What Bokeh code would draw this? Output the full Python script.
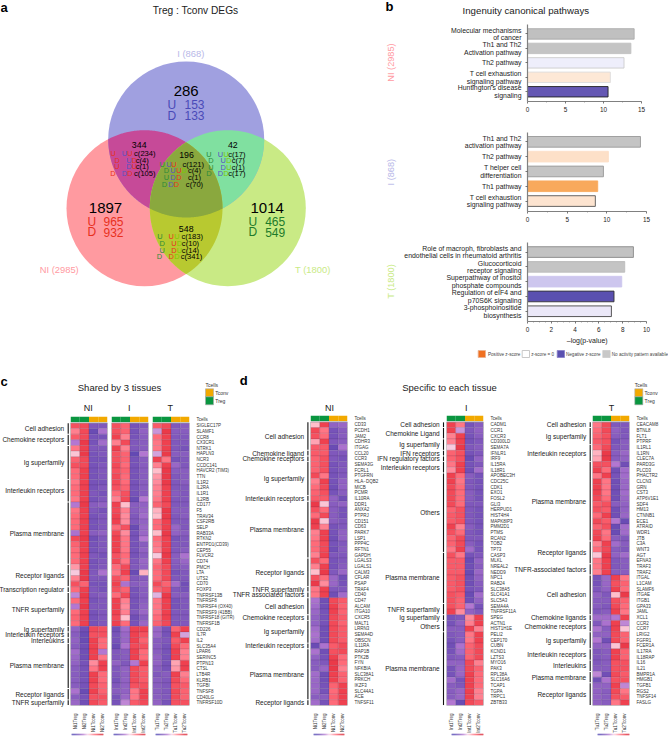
from math import pi
import numpy as np
from bokeh.embed import file_html
from bokeh.resources import INLINE
from bokeh.core.properties import value
from bokeh.models import (Range1d, LinearAxis, FixedTicker, LinearColorMapper)
from bokeh.plotting import figure

FONT = "Liberation Sans"

# ---------- panel a : venn ----------
venn_sets = ["NI (2985)", "I (868)", "T (1800)"]
venn_totals = ["1897", "286", "1014"]
venn_ud = [("965", "932"), ("153", "133"), ("465", "549")]
venn_overlap_titles = [("344", 138.7, 144.3), ("196", 186, 154.7), ("42", 232.3, 144.3), ("548", 185.7, 228)]
venn_small = [
    # zoom-coordinates of the small U/D columns: x, y, text, colour key
    (338,459,"U","r"),(372,459,"U","p"),(388,459,"U","r"),(433,459,"c(234)","k"),
    (350,479,"D","r"),(385,479,"U","p"),(402,479,"D","r"),(425,479,"c(4)","k"),
    (349,498,"U","r"),(385,498,"D","p"),(402,498,"U","r"),(425,498,"c(1)","k"),
    (337,520,"D","r"),(372,520,"D","p"),(388,520,"D","r"),(433,520,"c(105)","k"),
    (485,491,"U","g"),(505,491,"U","p"),(520,491,"U","r"),(578,491,"c(121)","k"),
    (498,511,"D","g"),(517,511,"U","p"),(535,511,"U","r"),(552,511,"D","l"),(582,511,"c(4)","k"),
    (498,530,"U","g"),(517,530,"D","p"),(535,530,"D","r"),(582,530,"c(1)","k"),
    (492,551,"D","g"),(511,551,"D","p"),(528,551,"D","r"),(582,551,"c(70)","k"),
    (625,461,"U","g"),(660,461,"U","p"),(677,461,"U","l"),(709,461,"c(17)","k"),
    (631,481,"D","g"),(668,481,"U","p"),(685,481,"D","l"),(713,481,"c(7)","k"),
    (631,500,"U","g"),(668,500,"D","p"),(685,500,"U","l"),(713,500,"c(1)","k"),
    (625,520,"D","g"),(660,520,"D","p"),(677,520,"D","l"),(709,520,"c(17)","k"),
    (478,709,"U","g"),(512,709,"U","r"),(529,709,"U","l"),(575,709,"c(183)","k"),
    (485,729,"D","g"),(520,729,"U","r"),(537,729,"D","l"),(570,729,"c(10)","k"),
    (485,749,"U","g"),(520,749,"D","r"),(537,749,"U","l"),(570,749,"c(14)","k"),
    (477,769,"D","g"),(512,769,"D","r"),(529,769,"D","l"),(573,769,"c(341)","k"),
]
small_cols = {"r":"#e8301e","p":"#5a50c0","g":"#2e8b3a","l":"#7ec800","k":"#000000"}

# ---------- panel b : pathways ----------
b_ni_labels = ["Molecular mechanisms\nof cancer","Th1 and Th2\nActivation pathway","Th2 pathway","T cell exhaustion\nsignaling pathway","Huntington's disease\nsignaling"]
b_ni_values = [14.03,13.6,12.7,10.9,10.6]
b_ni_fill = ["#c0c0c0","#c4c4c4","#eeeefb","#fde8d6","#6558b4"]
b_ni_line = ["#aaaaaa","#c0c0c0","#cccccc","#dddddd","#222222"]
b_i_labels = ["Th1 and Th2\nactivation pathway","Th2 pathway","T helper cell\ndifferentiation","Th1 pathway","T cell exhaustion\nsignaling pathway"]
b_i_values = [14.24,10.2,9.57,8.85,8.55]
b_i_fill = ["#c4c4c4","#fde0c8","#c4c4c4","#f8a95c","#fde4d0"]
b_i_line = ["#999999","#fde0c8","#999999","#f8a95c","#555555"]
b_t_labels = ["Role of macroph, fibroblasts and\nendothelial cells in rheumatoid arthritis","Glucocorticoid\nreceptor signaling","Superpathway of inositol\nphosphate compounds","Regulation of eIF4 and\np70S6K signaling","3-phosphoinositide\nbiosynthesis"]
b_t_values = [8.9,8.17,7.92,7.27,7.05]
b_t_fill = ["#c2c2c2","#c4c4c4","#cdc6ee","#5a50b0","#ebe8f8"]
b_t_line = ["#888888","#bbbbbb","#cdc6ee","#333333","#444444"]

# ---------- panels c / d : heatmaps, value x 10 ----------
c_genes = ["SIGLEC17P","SLAMF1","CCR8","CX3CR1","NTRK1","HAPLN3","NCR3","CCDC141","HAVCR2 (TIM3)","TTN","IL1R2","IL2RA","IL1R1","IL2RB","CD177","F5","TRAV34","CSF2RB","SELP","RAB33A","RTKN2","ENTPD1(CD39)","CEP55","FLVCR2","CD74","PMCH","LTA","UTS2","CD70","FOXP3","TNFRSF13B","TNFRSF8","TNFRSF4 (OX40)","TNFRSF9 (41BB)","TNFRSF18 (GITR)","TNFRSF1B","CD226","IL7R","IL2","SLC35A4","LPAR6","SERINC5","PTPN13","CTSL","LTB4R","KLRB1","TGFBI","TNFSF8","CD40LG","TNFRSF10D"]
c_groups = [("Cell adhesion",2),("Chemokine receptors",2),("Ig superfamily",6),("Interleukin receptors",4),("Plasma membrane",11),("Receptor ligands",4),("Transcription regulator",1),("TNFR superfamily",6),("Ig superfamily",1),("Interleukin receptors",1),("Interleukins",1),("Plasma membrane",8),("Receptor ligands",2),("TNFR superfamily",1)]
c_ni = [[13,14,-12,-12],[8,14,-15,-7],[12,14,-13,-13],[-6,16,-13,-8],[9,15,-12,-12],[2,16,-13,-12],[11,14,-13,-13],[13,14,-13,-12],[10,15,-13,-12],[10,15,-13,-12],[9,15,-13,-13],[10,15,-13,-12],[10,15,-12,-13],[9,15,-13,-12],[-6,16,-11,-10],[9,15,-12,-13],[10,15,-13,-12],[10,15,-13,-12],[10,15,-13,-12],[-7,15,-11,-10],[14,16,-14,-12],[11,15,-13,-12],[10,15,-13,-12],[10,15,-12,-13],[10,15,-13,-12],[6,15,-13,-12],[1,16,-12,-7],[8,16,-12,-12],[13,11,-13,-13],[10,15,-12,-13],[-5,16,-12,-11],[10,15,-13,-12],[-6,16,-12,-12],[10,15,-13,-12],[11,15,-13,-12],[10,15,-13,-12],[-10,-14,14,13],[-11,-15,13,13],[-10,-15,15,10],[-11,-14,15,10],[-8,-14,15,-6],[-9,-14,15,9],[-10,-13,7,15],[-11,-13,9,15],[-11,-13,15,10],[-11,-13,15,10],[-11,-13,14,11],[-7,-15,15,11],[-11,-13,13,13],[-9,-14,14,12]]
c_i = [[13,11,-13,-12],[13,11,-13,-10],[15,8,-13,-11],[8,14,-12,-11],[15,8,-12,-11],[13,11,-16,-6],[13,11,-13,-11],[14,10,-13,-11],[13,11,-13,-11],[14,10,-13,-11],[14,10,-13,-11],[13,11,-13,-11],[10,13,-13,-11],[8,14,-15,-6],[15,3,-11,-10],[14,8,-11,-9],[15,7,-12,-8],[15,7,-12,-10],[10,13,-15,-9],[14,7,-13,-9],[15,9,-13,-6],[15,9,-13,-11],[15,9,-13,-10],[13,10,-13,-11],[14,9,-12,-9],[10,14,-12,-10],[9,15,-15,4],[13,11,-12,-11],[15,-7,-11,-10],[13,11,-13,-11],[10,14,-13,-11],[15,8,-13,-11],[15,7,-13,-10],[15,8,-12,-9],[14,3,-14,-11],[15,10,-13,-9],[-14,-8,15,15],[-13,-9,15,13],[-13,-9,15,11],[-15,-7,14,13],[-12,-11,15,10],[-12,-11,15,10],[-10,-12,-6,15],[-12,-10,14,12],[-12,-10,14,12],[-13,-10,14,12],[-12,-10,13,13],[-11,-10,9,15],[-13,-9,9,15],[-13,-5,12,14]]
c_t = [[12,14,-12,-11],[-4,16,-11,-11],[10,15,-12,-12],[9,15,-12,-12],[9,15,-12,-13],[-3,16,-11,-11],[15,9,-13,-12],[8,15,-9,-12],[3,16,-11,-11],[6,16,-12,-11],[7,16,-12,-11],[8,15,-12,-12],[8,15,-11,-12],[9,15,-12,-12],[11,14,-12,-12],[4,16,-11,-11],[3,16,-12,-11],[10,15,-12,-12],[10,15,-9,-12],[3,16,-10,-11],[10,15,-13,-12],[9,15,-12,-12],[8,15,-12,-11],[1,16,-11,-7],[9,15,-11,-9],[11,14,-12,-11],[10,14,-13,-12],[10,14,-12,-12],[14,11,-8,-14],[11,13,-12,-13],[-2,16,-11,-11],[9,15,-13,-12],[9,15,-13,-12],[9,15,-12,-12],[10,15,-12,-12],[11,14,-12,-12],[-9,-13,11,15],[-9,-13,15,-3],[-11,-12,12,15],[-11,-13,14,10],[-11,-13,15,8],[-10,-13,15,8],[-10,-13,5,15],[-11,-13,6,15],[-12,-11,15,8],[-11,-12,14,10],[-11,-12,13,12],[-11,-12,14,11],[-11,-12,14,11],[-10,-13,13,13]]

dn_genes = ["CD33","PCDH1","JAM2","CDHR3","ITGAG","CCL20","CCR3","SEMA3G","FCRL1","PTGFRN","HLA\u2212DQB2","MICB","PCMR","IL10RA","DDR1","ANXA2","PTPRJ","CD151","CD63","PARK7","LSP1","PPP4C","RFTN1","GAPDH","LGALS3","LGALS1","CALM3","CFLAR","PSAP","TRAF4","CD40","CD47","ALCAM","ITGA10","CXCR5","MALT1","LRRN3","SEMA4D","OBSCN","IL11RA","RAP1B","PTK2B","FYN","NFKBIA","SLC38A1","PRKCH","IKZF3","SLC44A1","ACE","TNFSF11"]
dn_groups = [("Cell adhesion",5),("Chemokine ligand",1),("Chemokine receptors",1),("Ig superfamily",6),("Interleukin receptors",1),("Plasma membrane",10),("Receptor ligands",5),("TNFR superfamily",1),("TNFR associated factors",1),("Cell adhesion",3),("Chemokine receptors",1),("Ig superfamily",4),("Interleukin receptors",1),("Plasma membrane",9),("Receptor ligands",1)]
d_ni = [[3,15,-10,-9],[14,9,-13,-11],[13,10,-13,-11],[5,15,-12,-11],[12,12,-15,-7],[12,12,-12,-12],[11,13,-12,-13],[11,13,-13,-12],[11,13,-13,-12],[14,9,-13,-12],[8,15,-13,-10],[10,14,-14,-10],[11,13,-13,-11],[12,12,-10,-14],[16,2,-11,-10],[13,10,-11,-13],[10,14,-11,-13],[16,2,-11,-12],[15,8,-13,-12],[8,15,-13,-10],[9,15,-14,-10],[10,14,-13,-12],[10,14,-14,-11],[8,15,-12,-12],[13,10,-13,-12],[8,15,-13,-11],[3,16,-12,-9],[13,10,-9,-14],[16,7,-9,-13],[9,15,-12,-12],[9,15,-14,-8],[-7,-14,14,12],[-8,-14,15,11],[-9,-13,15,11],[-10,-13,14,12],[-10,-13,14,11],[-8,-14,14,12],[-7,-14,14,12],[-8,-14,14,12],[-15,-7,12,14],[-7,-14,13,14],[-10,-13,15,10],[-11,-12,16,10],[-11,-9,16,8],[-8,-14,15,11],[-9,-14,15,11],[-9,-13,11,15],[-9,-13,10,15],[-11,-11,11,15],[-8,-13,10,15]]

di_genes = ["CADM1","CCR1","CXCR3","CD300LD","SEMA7A","IFNLR1","IRF9","IL15RA","IL18R1","APOBEC3H","CDC25C","CDK1","EXO1","FOSL2","GLI3","HERPUD1","HIST4H4","MAPK8IP3","PMM2D1","PTMS","RCAN2","TOB2","TP73","CASP3","MLKL","NREAL2","NEDD9","NPC1","RAB24","SLC38A5","SLC41A1","SLC5A3","SEMA4A","TNFRSF11A","SPEG","ACTN1","HIST1H1E","PELI2","CEP170","CUBN","KCND1","LZTS3","MYO16","PAK3","RPL38A","SLC16A6","TCAP1","TGPA","TRPC1","ZBTB33"]
di_groups = [("Cell adhesion",1),("Chemokine Ligand",2),("Ig superfamily",2),("IFN receptors",1),("IFN regulatory factors",1),("Interleukin receptors",2),("Others",14),("Plasma membrane",9),("TNFR superfamily",2),("Ig superfamily",1),("Others",2),("Plasma membrane",13)]
d_i = [[15,9,-13,-11],[15,-4,-12,-10],[8,15,-13,-11],[8,15,-13,-12],[1,16,-12,-11],[11,13,-13,-12],[11,13,-15,-10],[9,15,-13,-12],[7,15,-14,-8],[15,10,-11,-13],[15,9,-12,-13],[14,10,-12,-13],[14,10,-11,-13],[14,10,-11,-13],[14,10,-12,-12],[11,13,-12,-13],[12,13,-12,-13],[12,13,-12,-13],[15,8,-11,-13],[13,10,-12,-13],[11,14,-12,-12],[11,14,-11,-13],[9,15,-8,-13],[13,9,-13,-12],[12,12,-15,-10],[12,12,-14,-11],[12,12,-15,-9],[12,13,-14,-10],[12,13,-14,-11],[12,13,-13,-12],[13,12,-15,-8],[13,11,-14,-10],[13,11,-6,-13],[15,7,-10,-12],[-13,-12,7,15],[-13,-10,8,15],[-11,-11,15,8],[-12,-11,9,15],[-13,-11,9,15],[-14,-7,11,14],[-13,-8,11,14],[-12,-11,11,14],[-10,-10,14,8],[-13,-9,14,11],[-13,-9,15,10],[-8,-13,15,10],[-11,-12,15,10],[-11,-9,15,8],[-11,-9,15,8],[-6,-15,14,12]]

dt_genes = ["CEACAM8","BTNL8","FLT1","PTPRF","IL1RL1","IL1RN","CLEC7A","PARD3G","PLCD3","PHACTR2","CLCN3","GRN","CST3","ATP6V1E1","SDF4","HM13","CTNNB1","ECE1","ATRAID","WDR1","JTB","C3A","WNT3","AGT","EFNA3","TRAF3","TRAF2","ITGAL","L1CAM","SLAMF6","ITGAE","ITGB1","GPA33","JAML","XCL1","CCR2","CCR7","LRIG2","FGFR1","FCER1A","IL17RA","IL18RAP","IL16","IL21","BMPR1A","HMGB1","TGFB1","RGS2","TNFSF14","FASLG"]
dt_groups = [("Cell adhesion",1),("Ig superfamily",3),("Interleukin receptors",3),("Plasma membrane",14),("Receptor ligands",4),("TNFR-associated factors",2),("Cell adhesion",7),("Chemokine ligands",1),("Chemokine receptors",2),("Ig superfamily",3),("Interleukin receptors",2),("Interleukins",2),("Plasma membrane",2),("Receptor ligands",4)]
d_t = [[9,14,-12,-12],[10,14,-10,-12],[11,13,-11,-12],[12,13,-13,-11],[10,14,-12,-11],[4,16,-11,-9],[5,16,-11,-10],[13,13,-6,-14],[15,10,-14,-8],[9,15,-13,-8],[15,9,-14,-9],[15,9,-14,-9],[15,9,-14,-8],[14,10,-14,-9],[12,13,-11,-10],[13,12,-14,-10],[10,15,-14,-9],[14,12,-6,-15],[11,13,-15,-8],[14,9,-15,-8],[15,10,-11,-12],[8,15,-8,-11],[10,14,-11,-12],[2,16,-10,-8],[9,15,-12,-11],[9,15,-12,-11],[8,15,-11,-11],[-13,-9,15,9],[-13,-9,13,11],[-12,-10,15,10],[-10,-12,3,16],[-11,-11,13,11],[-11,-12,14,10],[-12,-11,15,9],[-8,-8,-6,15],[-12,-7,15,-5],[-7,-11,15,2],[-10,-10,14,11],[-6,-14,14,11],[-10,-10,2,16],[-12,-11,15,11],[-12,-11,15,11],[-12,-11,13,13],[-11,-11,13,13],[-5,-14,14,12],[-14,-7,13,13],[-10,-10,15,-5],[-10,-11,14,9],[-10,-11,13,12],[-10,-11,9,15]]

cell_types = ["Treg","Treg","Tconv","Tconv"]
type_cols = {"Treg":"#0a9640","Tconv":"#f2a900"}

# colour scale
anchors_v = [-2.0,-1.5,-1.2,-0.6,0.0,0.3,0.7,1.0,1.5,2.0]
anchors_c = ["#4a40b0","#6a4cb4","#8058bc","#b478d2","#f4d0e8","#ffc0cc","#ff8c9c","#ff6c7a","#f04250","#d82030"]
rgb = np.array([[int(c[i:i+2],16) for i in (1,3,5)] for c in anchors_c],float)
vv = np.linspace(-2,2,256)
palette = ["#%02x%02x%02x" % tuple(int(np.interp(v,anchors_v,rgb[:,k])) for k in range(3)) for v in vv]
mapper = LinearColorMapper(palette=palette, low=-2, high=2)

roots = []
def place(p, frame_left, frame_top, ml, mt):
    p.styles = {"position":"absolute","left":f"{frame_left-ml}px","top":f"{frame_top-mt}px"}
    p.background_fill_color = None
    p.border_fill_color = None
    p.outline_line_color = None
    roots.append(p)

# ---------- page layer ----------
page = figure(width=668, height=739, x_range=Range1d(0,668), y_range=Range1d(739,0), output_backend="svg",
              toolbar_location=None, min_border=0, x_axis_location=None, y_axis_location=None)
page.xgrid.visible = False; page.ygrid.visible = False
place(page, 0, 0, 0, 0)

def T(x, y, s, size, color="#222222", align="center", style="normal", angle=0):
    page.text(x=[x], y=[y], text=[s], text_font=value(FONT), text_font_size=f"{size}px", text_color=color,
              text_align=align, text_baseline="middle", text_font_style=style, angle=angle)

# venn circles with the region colours
vx = [144, 185.7, 227.3]; vy = [207.7, 139, 207.7]; vr = 78
vc = ["#ff9aa0", "#a0a0e0", "#c9ea85"]
for i in (0, 2, 1):
    page.circle(x=[vx[i]], y=[vy[i]], radius=vr, fill_color=vc[i], line_color=None)

def region(ids):
    px, py = [], []
    th = np.linspace(0, 2*pi, 721)
    for i in ids:
        cx = vx[i]+vr*np.cos(th); cy = vy[i]+vr*np.sin(th)
        ok = np.ones_like(th, bool)
        for j in ids:
            if j != i:
                ok &= (cx-vx[j])**2+(cy-vy[j])**2 <= vr*vr+1e-6
        px += list(cx[ok]); py += list(cy[ok])
    px, py = np.array(px), np.array(py)
    o = np.argsort(np.arctan2(py-py.mean(), px-px.mean()))
    return px[o], py[o]

for ids,col in [((0,1),"#c64a98"),((1,2),"#80e0a0"),((0,2),"#b8c930"),((0,1,2),"#8aa83e")]:
    rx, ry = region(ids)
    page.patch(x=rx, y=ry, fill_color=col, line_color=None)

T(195, 10.3, "Treg : Tconv DEGs", 10.2)
T(58.7, 269, venn_sets[0], 9.4, "#ff9aa2")
T(190.3, 53.3, venn_sets[1], 9.4, "#b8b8e8")
T(312.3, 269, venn_sets[2], 9.4, "#c9ea85")
blocks = [(105,207.3,91.3,113,221,231.7,"#e8301e"),(185.7,90.7,171.3,194,104.3,115,"#4a4ab8"),(266.7,207.3,252.3,274.7,221,231.7,"#1e7a2a")]
for i,(tx,ty,ux,nx,uy,dy,col) in enumerate(blocks):
    T(tx,ty,venn_totals[i],15,"#000000")
    T(ux,uy,"U",12,col); T(ux,dy,"D",12,col)
    T(nx,uy,venn_ud[i][0],12,col); T(nx,dy,venn_ud[i][1],12,col)
for s,x,y in venn_overlap_titles:
    T(x,y,s,8.8,"#000000")
for x,y,s,c in venn_small:
    T(x/3,y/3,s,7.6 if s[0]=="c" else 7.4,small_cols[c])

# panel letters
T(0,7,"a",13,"#000000","left","bold")
T(385,6,"b",13,"#000000","left","bold")
T(0,381,"c",13,"#000000","left","bold")
T(239.3,380,"d",13,"#000000","left","bold")

# panel b texts
T(525.3,10.3,"Ingenuity canonical pathways",9.7)
T(390,62,venn_sets[0],9.2,"#ff9aa2",angle=pi/2)
T(390,171.7,venn_sets[1],9.2,"#b8b8e8",angle=pi/2)
T(390,281,venn_sets[2],9.2,"#c9ea85",angle=pi/2)
T(586.7,340.3,"\u2013log(p-value)",7)
leg_x = [477.7,521.7,556.7,602.3]
leg_c = ["#f07020","#ffffff","#5a50b0","#c8c8c8"]
leg_l = ["#e8b090","#bbbbbb","#8880c8","#cccccc"]
leg_t = [("Positive z-score",487.5),("z-score = 0",530.7),("Negative z-score",565.5),("No activity pattern available",611.3)]
page.quad(left=leg_x, right=[x+7.3 for x in leg_x], top=[350]*4, bottom=[357]*4, fill_color=leg_c, line_color=leg_l, line_width=0.8)
for s,x in leg_t:
    T(x,353.5,s,4.6,"#444444","left")

# panels c/d titles
T(119,387,"Shared by 3 tissues",9.5)
T(449,387,"Specific to each tissue",9.5)
for s,x in [("NI",87.7),("I",128.7),("T",169.7),("NI",329),("I",465.7),("T",611)]:
    T(x,407.7,s,9)

# Tcells legends
for lx in (205, 634.3):
    T(lx,384,"Tcells",5,"#333333","left")
    page.quad(left=[lx,lx], right=[lx+8,lx+8], top=[388.3,396.3], bottom=[396.3,404.3],
              fill_color=[type_cols["Tconv"],type_cols["Treg"]], line_color="#aaaaaa", line_width=0.6)
    T(lx+9.8,392.3,"Tconv",5,"#333333","left")
    T(lx+9.8,400.7,"Treg",5,"#333333","left")

# ---------- bars ----------
def bars(labels, vals, fills, lines, top, zero_row, spacing, px_unit, xmax, ticks, minor, bottom):
    n = len(labels)
    pos = [n-1-i for i in range(n)]
    fh = int(round(bottom-top)); fw = int(round(px_unit*xmax))
    ml, mr, mt, mb = 135, 12, 2, 22
    yb = -(bottom-zero_row)/spacing
    yt = (zero_row-top)/spacing
    p = figure(frame_width=fw, frame_height=fh, x_range=Range1d(0,xmax), y_range=Range1d(yb,yt),
               output_backend="svg", toolbar_location=None, min_border_left=ml, min_border_right=mr,
               min_border_top=mt, min_border_bottom=mb)
    p.grid.visible = False
    p.hbar(y=pos, right=vals, left=0, height=0.72, fill_color=fills, line_color=lines, line_width=0.9)
    xa, ya = p.xaxis[0], p.yaxis[0]
    xa.ticker = FixedTicker(ticks=ticks, minor_ticks=minor)
    ya.ticker = FixedTicker(ticks=pos)
    ya.major_label_overrides = {pos[i]: labels[i] for i in range(n)}
    for a in (xa, ya):
        a.axis_line_color = "#808080"; a.axis_line_width = 1.2
        a.major_tick_line_color = "#555555"; a.major_tick_line_width = 0.8
        a.major_tick_out = 2; a.major_tick_in = 0
        a.minor_tick_line_color = "#777777"; a.minor_tick_line_width = 0.6
        a.minor_tick_out = 1; a.minor_tick_in = 0
        a.major_label_text_font = FONT
        a.major_label_text_color = "#222222"
    ya.minor_tick_line_color = None
    xa.major_label_text_font_size = "6.4px"; xa.major_label_standoff = 3
    ya.major_label_text_font_size = "6.9px"; ya.major_label_standoff = 4
    ya.major_label_text_line_height = 1.09
    place(p, 527, top, ml, mt)

bars(b_ni_labels,b_ni_values,b_ni_fill,b_ni_line,24,91,14.4,7.6,15,[0,5,10,15],[2.5,7.5,12.5],100.7)
bars(b_i_labels,b_i_values,b_i_fill,b_i_line,132,200.3,14.75,7.91,15,[0,5,10,15],[2.5,7.5,12.5],210.7)
bars(b_t_labels,b_t_values,b_t_fill,b_t_line,241.7,310.7,14.85,11.87,10,[0,2,4,6,8,10],[x/2 for x in range(1,20)],321)

# ---------- heatmaps ----------
def heatmap(data, genes, samples, left, bar_top, row_top, bottom, groups=None, line_x=None, label_x=None):
    nr = len(data)
    rh = (bottom-row_top)/nr
    fw = 37; fh = int(round(bottom-bar_top))
    ytop = nr + (row_top-bar_top)/rh
    ml, mr, mt, mb = 80, 52, 2, 18
    p = figure(frame_width=fw, frame_height=fh, x_range=Range1d(0,4), y_range=Range1d(0,ytop),
               output_backend="svg", toolbar_location=None, min_border_left=ml, min_border_right=mr,
               min_border_top=mt, min_border_bottom=mb, x_axis_location=None, y_axis_location=None)
    p.grid.visible = False
    xs, ys, vals = [], [], []
    for r,row in enumerate(data):
        for c,v in enumerate(row):
            xs.append(c+0.5); ys.append(nr-r-0.5); vals.append(v/10)
    p.rect(x="x", y="y", width=1, height=1, fill_color={"field":"v","transform":mapper},
           line_color="#30204a", line_alpha=0.3, line_width=0.4, source=dict(x=xs,y=ys,v=vals))
    p.quad(left=[0], right=[4], top=[nr], bottom=[0], fill_color=None, line_color="#a0a0a0", line_width=0.9)
    p.rect(x=[0.5,1.5,2.5,3.5], y=[nr+(ytop-nr)*0.58]*4, width=1, height=(ytop-nr)*0.84,
           fill_color=[type_cols[t] for t in cell_types], line_color=None)
    if genes:
        ra = LinearAxis(ticker=FixedTicker(ticks=[nr-i-0.5 for i in range(nr)]+[nr+(ytop-nr)*0.55]),
                        major_label_overrides={**{nr-i-0.5: genes[i] for i in range(nr)}, nr+(ytop-nr)*0.55: "Tcells"})
        ra.axis_line_color=None; ra.major_tick_line_color=None; ra.minor_tick_line_color=None
        ra.major_label_text_font=FONT; ra.major_label_text_font_size="4.5px"; ra.major_label_text_color="#333333"
        ra.major_label_standoff=1
        p.add_layout(ra,"right")
    ba = LinearAxis(ticker=FixedTicker(ticks=[0.5,1.5,2.5,3.5]),
                    major_label_overrides={0.5+i: s for i,s in enumerate(samples)})
    ba.axis_line_color=None; ba.major_tick_line_color=None; ba.minor_tick_line_color=None
    ba.major_label_orientation=pi/2
    ba.major_label_text_font=FONT; ba.major_label_text_font_size="4.5px"; ba.major_label_text_color="#333333"
    ba.major_label_standoff=2
    p.add_layout(ba,"below")
    if groups:
        r0 = 0
        lx = (line_x-left)/(fw/4)
        for name,n in groups:
            y1 = nr-r0-0.08; y0 = nr-r0-n+0.08
            p.segment(x0=[lx],x1=[lx],y0=[y0],y1=[y1],line_color="#111111",line_width=1.1,level="overlay")
            p.text(x=[lx],y=[(y0+y1)/2],x_offset=[label_x-line_x],text=[name],text_font=value(FONT),text_font_size="6.5px",
                   text_color="#222222",text_align="right",text_baseline="middle",level="overlay")
            r0 += n
    place(p, left, bar_top, ml, mt)

def cbar(left, width):
    tv = np.linspace(-2.35,2.35,60)
    p = figure(frame_width=int(round(width)), frame_height=2, x_range=Range1d(-2.35,2.35), y_range=Range1d(0,1),
               output_backend="svg", toolbar_location=None, min_border_left=2, min_border_right=2,
               min_border_top=0, min_border_bottom=4, y_axis_location=None, x_axis_location=None)
    p.grid.visible=False
    p.rect(x="x",y=0.5,width=tv[1]-tv[0],height=1,fill_color={"field":"v","transform":mapper},line_color=None,
           source=dict(x=tv,v=tv))
    ax = LinearAxis(ticker=FixedTicker(ticks=[-2,-1,0,1,2]))
    ax.axis_line_color=None; ax.major_tick_line_color=None; ax.minor_tick_line_color=None
    ax.major_label_text_font=FONT; ax.major_label_text_font_size="3.8px"; ax.major_label_text_color="#333333"
    ax.major_label_standoff=0
    p.add_layout(ax,"below")
    place(p, left, 732.7, 2, 0)

samples_ni = ["Ni1Treg","Ni2Treg","Ni1Tconv","Ni2Tconv"]
samples_i = ["Int1Treg","Int2Treg","Int1Tconv","Int2Tconv"]
samples_t = ["Tu1Treg","Tu2Treg","Tu1Tconv","Tu2Tconv"]

heatmap(c_ni,None,samples_ni,70.3,416.3,422.7,705.3,c_groups,68,64)
heatmap(c_i,None,samples_i,111,416.3,422.7,705.3)
heatmap(c_t,c_genes,samples_t,151.7,416.3,422.7,705.3)
heatmap(d_ni,dn_genes,samples_ni,310.3,415.3,421.7,705.3,dn_groups,307.7,304)
heatmap(d_i,di_genes,samples_i,446.3,415.3,421.7,705.3,di_groups,443.3,439.5)
heatmap(d_t,dt_genes,samples_t,592.3,415.3,421.7,705.3,dt_groups,590,586)
for l,w in [(71,32.3),(112.7,32.3),(155,32.3),(313.3,31),(451.3,32),(596.7,31.6)]:
    cbar(l,w)

open("out.html","w").write(file_html(roots, INLINE))
